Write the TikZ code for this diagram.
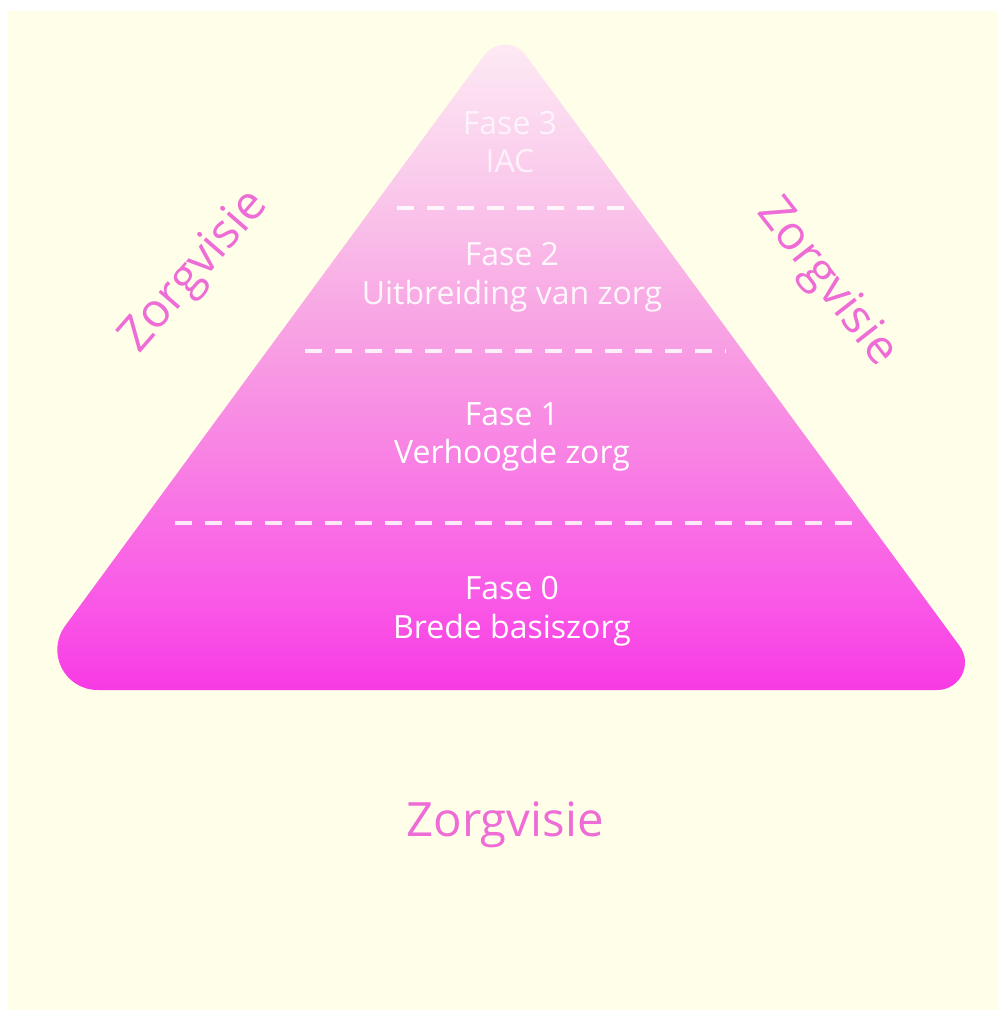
\documentclass[tikz,border=0pt]{standalone}
\usepackage{fontspec}
\setmainfont{Open Sans}
\definecolor{cream}{RGB}{255,254,233}
\definecolor{visie}{RGB}{238,108,214}
\definecolor{pa}{RGB}{248,58,228}
\definecolor{pb}{RGB}{249,88,230}
\definecolor{pc}{RGB}{248,130,228}
\definecolor{pd}{RGB}{248,168,228}
\definecolor{pe}{RGB}{250,200,235}
\definecolor{pf}{RGB}{253,234,244}
\pgfdeclareverticalshading{pyrshade}{100bp}{color(0bp)=(pa); color(25bp)=(pa); color(31.8bp)=(pb); color(43.1bp)=(pc); color(54.4bp)=(pd); color(63.5bp)=(pe); color(75bp)=(pf); color(100bp)=(pf)}
\tikzset{
  phase/.style={align=center, text=white, font=\fontsize{24}{29}\selectfont, inner sep=0pt},
  visietext/.style={text=visie, font=\fontsize{35.5}{42}\selectfont, inner sep=0pt},
  divider/.style={draw=white, draw opacity=0.85, line width=2.6pt, dash pattern=on 12.5pt off 10pt}
}
\begin{document}
\begin{tikzpicture}[x=0.75pt,y=-0.75pt]
\useasboundingbox (0,0) rectangle (998,1010);
\fill[white] (0,0) rectangle (998,1010);
\fill[cream] (8,11) rectangle (998,1010);
% pyramid
\path[shading=pyrshade]
  (98,690) -- (937,690)
  .. controls (960.1,690) and (973.1,664.3) .. (959.4,645.7)
  -- (525.7,55.2)
  .. controls (515.5,41.2) and (494.5,41.2) .. (484.3,55.2)
  -- (65.4,625.5)
  .. controls (45.5,652.6) and (64.4,690) .. (98,690) -- cycle;
% dividers
\coordinate (d3a) at (397,208); \coordinate (d3b) at (636,208);
\coordinate (d2a) at (305,351); \coordinate (d2b) at (726,351);
\coordinate (d1a) at (175,523); \coordinate (d1b) at (852,523);
\draw[divider] (d3a) -- (d3b);
\draw[divider] (d2a) -- (d2b);
\draw[divider] (d1a) -- (d1b);
% phase texts
\node[phase, text opacity=0.7] (f3) at (510,142) {Fase 3\\IAC};
\node[phase, text opacity=0.9] (f2) at (512,277) {Fase 2\\Uitbreiding van zorg};
\node[phase] (f1) at (512,437) {Fase 1\\Verhoogde zorg};
\node[phase] (f0) at (512,611) {Fase 0\\Brede basiszorg};
% zorgvisie labels
\node[visietext] (vb) at (505,825) {Zorgvisie};
\node[visietext, rotate=49] (vl) at (195,272) {Zorgvisie};
\node[visietext, rotate=-52] (vr) at (826,283) {Zorgvisie};
\end{tikzpicture}
\end{document}
